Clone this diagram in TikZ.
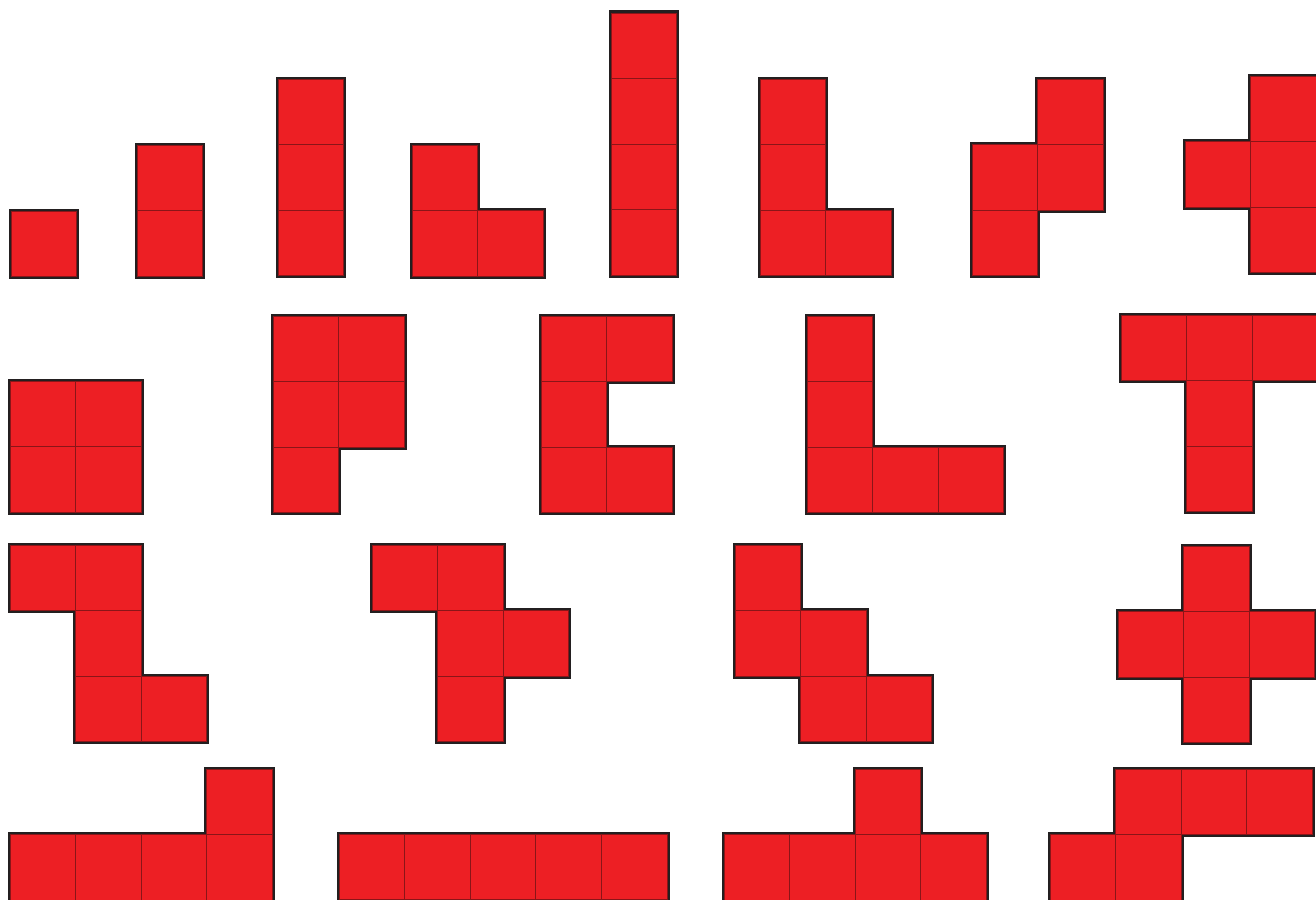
\documentclass[tikz,border=0pt]{standalone}
\definecolor{pred}{HTML}{ED1F24}
\definecolor{pline}{HTML}{231F20}
\definecolor{pinner}{HTML}{8A1518}
\tikzset{
  outerstroke/.style={draw=pline,line width=5pt,line join=miter},
  cellfill/.style={fill=pred,draw=pinner,line width=0.9pt}
}
\newcommand\sz{65.6}
\newcommand\polyo[3]{%
  \begin{scope}[shift={(#1,#2)}]
    \foreach \c/\r in {#3} \draw[outerstroke] (\c*\sz,\r*\sz) rectangle ++(\sz,\sz);
    \foreach \c/\r in {#3} \filldraw[cellfill] (\c*\sz,\r*\sz) rectangle ++(\sz,\sz);
  \end{scope}}
\begin{document}
\begin{tikzpicture}[x=1pt,y=-1pt]
\useasboundingbox (0,0) rectangle (1316,899);
\clip (0,0) rectangle (1316,899);
% row 1
\polyo{11}{211}{0/0}
\polyo{137}{145}{0/0,0/1}
\polyo{278}{79}{0/0,0/1,0/2}
\polyo{412}{145}{0/0,0/1,1/1}
\polyo{611}{13}{0/0,0/1,0/2,0/3}
\polyo{760}{79}{0/0,0/1,0/2,1/2}
\polyo{972}{79}{1/0,0/1,1/1,0/2}
\polyo{1185}{76}{1/0,0/1,1/1,1/2}
% row 2
\polyo{10}{381}{0/0,1/0,0/1,1/1}
\polyo{273}{316}{0/0,1/0,0/1,1/1,0/2}
\polyo{541}{316}{0/0,1/0,0/1,0/2,1/2}
\polyo{807}{316}{0/0,0/1,0/2,1/2,2/2}
\polyo{1121}{315}{0/0,1/0,2/0,1/1,1/2}
% row 3
\polyo{10}{545}{0/0,1/0,1/1,1/2,2/2}
\polyo{372}{545}{0/0,1/0,1/1,2/1,1/2}
\polyo{735}{545}{0/0,0/1,1/1,1/2,2/2}
\polyo{1118}{546}{1/0,0/1,1/1,2/1,1/2}
% row 4
\polyo{10}{769}{3/0,0/1,1/1,2/1,3/1}
\polyo{339}{834}{0/0,1/0,2/0,3/0,4/0}
\polyo{724}{769}{2/0,0/1,1/1,2/1,3/1}
\polyo{1050}{769}{1/0,2/0,3/0,0/1,1/1}
\end{tikzpicture}
\end{document}
